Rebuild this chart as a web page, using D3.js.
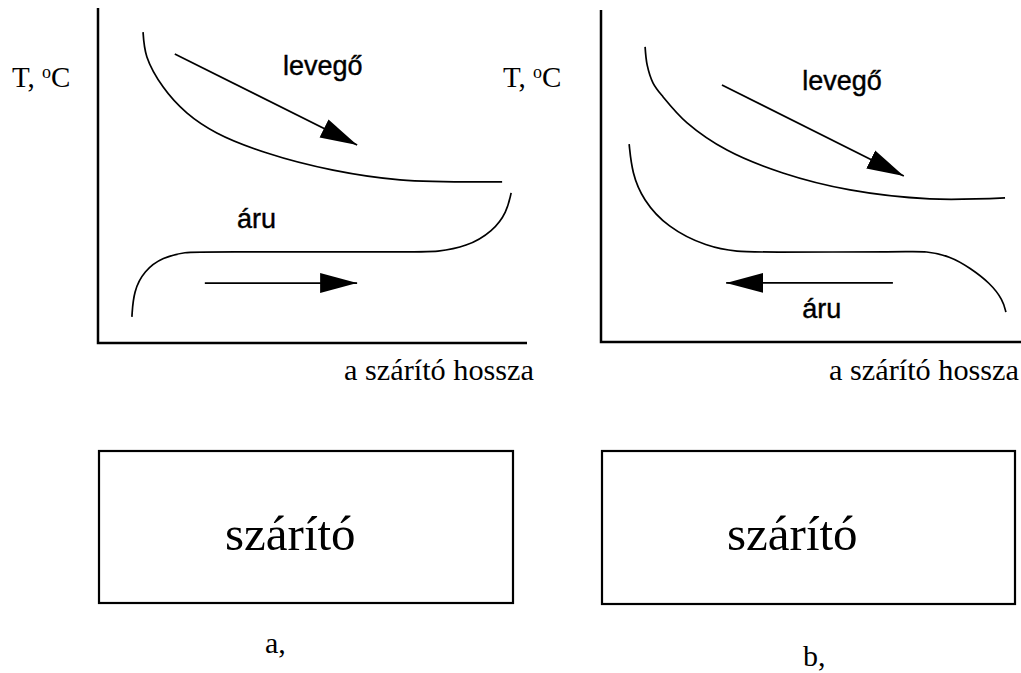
<!DOCTYPE html>
<html lang="hu">
<head>
<meta charset="UTF-8">
<title>szárító</title>
<script src="https://d3js.org/d3.v7.min.js"></script>
<style>
  body { margin: 0; background: #fff; }
  svg { display: block; }
  .serif { font-family: "Liberation Serif", "Times New Roman", serif; fill: #000; }
  .sans { font-family: "Liberation Sans", Arial, sans-serif; fill: #000; stroke: #000; stroke-width: 0.4; }
</style>
</head>
<body>
<div id="chart"></div>
<script>
// relative units: x = length along the dryer (0-100), y = temperature (0-100)

// a, parallel flow
const levegoA = [[10.5, 92.8], [11.4, 85.4], [15.2, 76.4], [20.7, 68.7], [27.7, 62.7],
                 [39.4, 56.7], [54.8, 51.6], [70.4, 48.7], [94.2, 48.1]];
const aruA = [[7.9, 7.8], [8.3, 15.5], [10.8, 21.6], [15.0, 25.6], [20.7, 27.2], [23.8, 27.2],
              [75.1, 27.2], [78.6, 27.2], [86.0, 28.7], [92.1, 33.4], [95.3, 39.1], [96.3, 44.8]];
const arrowLevegoA = [[17.9, 86.3], [60.4, 59.1]];
const arrowAruA = [[24.9, 17.9], [60.4, 17.9]];

// b, counter flow
const levegoB = [[10.5, 88.9], [11.0, 83.4], [12.4, 78.0], [14.8, 73.8], [20.5, 66.0], [30.0, 57.8],
                 [43.3, 50.9], [59.3, 45.8], [78.3, 43.1], [96.2, 43.4]];
const aruB = [[6.7, 59.6], [7.4, 50.9], [10.0, 42.8], [15.7, 34.6], [25.2, 28.6], [33.1, 27.1], [36.7, 27.1],
              [73.6, 27.1], [77.1, 27.4], [83.1, 25.9], [87.9, 22.3], [92.6, 17.8], [95.7, 12.7], [96.4, 9.0]];
const arrowLevegoB = [[28.8, 77.4], [72.1, 50.0]];
const arrowAruB = [[69.5, 17.8], [29.8, 17.8]];

const yLabel = "T, ";
const xLabel = "a szárító hossza";
const boxLabel = "szárító";
const panelLabels = ["a,", "b,"];

const W = 1021, H = 673;
const svg = d3.select("#chart").append("svg").attr("width", W).attr("height", H);

svg.append("defs").append("marker")
    .attr("id", "head")
    .attr("markerUnits", "userSpaceOnUse")
    .attr("viewBox", "0 -11 38 22")
    .attr("markerWidth", 38).attr("markerHeight", 22)
    .attr("refX", 37).attr("refY", 0)
    .attr("orient", "auto")
  .append("path")
    .attr("d", "M0,-10L37,0L0,10Z")
    .attr("fill", "#000");

const panels = [
  { left: 98, right: 527, top: 8, bottom: 343, levego: levegoA, aru: aruA,
    arrows: [arrowLevegoA, arrowAruA], tx: 12, levPos: [43.1, 80.0], aruPos: [32.4, 34.3],
    xl: 344, box: [99, 451, 513, 603], bx: 225, lx: 265, ly: 653 },
  { left: 601, right: 1021, top: 10, bottom: 342, levego: levegoB, aru: aruB,
    arrows: [arrowLevegoB, arrowAruB], tx: 503, levPos: [47.9, 75.9], aruPos: [47.9, 7.2],
    xl: 829, box: [602, 451, 1015, 604], bx: 727, lx: 803, ly: 666 }
];

panels.forEach(function (p, i) {
  const x = d3.scaleLinear().domain([0, 100]).range([p.left, p.right]);
  const y = d3.scaleLinear().domain([0, 100]).range([p.bottom, p.top]);
  const g = svg.append("g");

  // axes: plain lines, no ticks
  g.append("path")
    .attr("d", `M${x(0)},${y(100)}V${y(0)}H${x(100)}`)
    .attr("fill", "none").attr("stroke", "#000").attr("stroke-width", 2.5);

  const smooth = d3.line().x(d => x(d[0])).y(d => y(d[1])).curve(d3.curveCatmullRom.alpha(0.5));
  const rounded = d3.line().x(d => x(d[0])).y(d => y(d[1])).curve(d3.curveBasis);

  g.append("path").attr("d", smooth(p.levego))
    .attr("fill", "none").attr("stroke", "#000").attr("stroke-width", 1.7);
  g.append("path").attr("d", rounded(p.aru))
    .attr("fill", "none").attr("stroke", "#000").attr("stroke-width", 1.7);

  p.arrows.forEach(function (a) {
    g.append("path").attr("d", d3.line().x(d => x(d[0])).y(d => y(d[1]))(a))
      .attr("stroke", "#000").attr("stroke-width", 1.7)
      .attr("marker-end", "url(#head)");
  });

  g.append("text").attr("class", "sans")
    .attr("x", x(p.levPos[0])).attr("y", y(p.levPos[1]))
    .attr("font-size", 27).text("levegő");
  g.append("text").attr("class", "sans")
    .attr("x", x(p.aruPos[0])).attr("y", y(p.aruPos[1]))
    .attr("font-size", 27).text("áru");

  const t = g.append("text").attr("class", "serif")
    .attr("x", p.tx).attr("y", 87).attr("font-size", 29).text(yLabel);
  t.append("tspan").attr("font-size", 18).attr("dy", -9).text("o");
  t.append("tspan").attr("dy", 9).text("C");

  g.append("text").attr("class", "serif")
    .attr("x", p.xl).attr("y", 380).attr("font-size", 30)
    .attr("textLength", 190).attr("lengthAdjust", "spacingAndGlyphs")
    .text(xLabel);

  const b = p.box;
  g.append("rect").attr("x", b[0]).attr("y", b[1])
    .attr("width", b[2] - b[0]).attr("height", b[3] - b[1])
    .attr("fill", "none").attr("stroke", "#000").attr("stroke-width", 2.2);
  g.append("text").attr("class", "serif")
    .attr("x", p.bx).attr("y", 550).attr("font-size", 49).text(boxLabel);

  g.append("text").attr("class", "serif")
    .attr("x", p.lx).attr("y", p.ly).attr("font-size", 30).text(panelLabels[i]);
});
</script>
</body>
</html>
